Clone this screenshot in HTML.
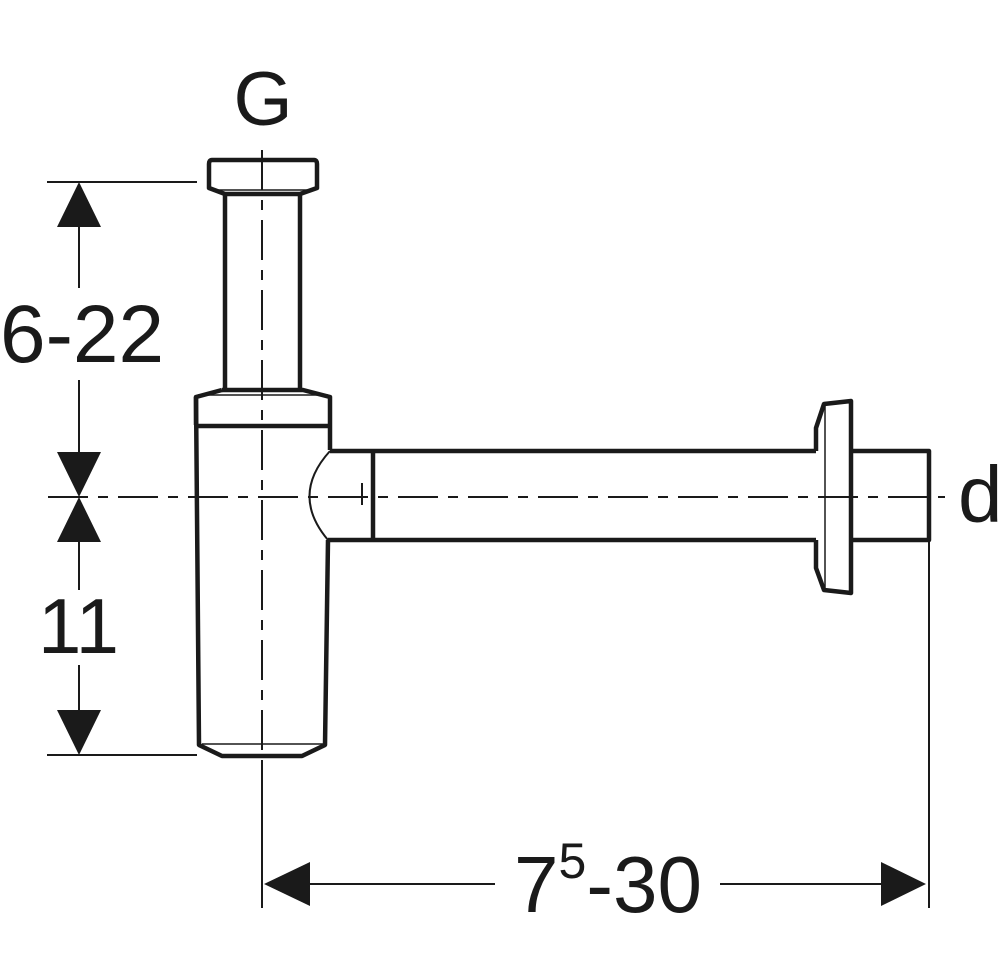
<!DOCTYPE html>
<html><head><meta charset="utf-8"><style>
html,body{margin:0;padding:0;background:#fff;}
svg{display:block;}
text{font-family:"Liberation Sans",Arial,sans-serif;fill:#1a1a1a;}
</style></head><body>
<svg width="1004" height="977" viewBox="0 0 1004 977" xmlns="http://www.w3.org/2000/svg">
<rect width="1004" height="977" fill="#fff"/>
<g stroke="#1a1a1a" fill="none" stroke-linejoin="round">
<line x1="262" y1="150" x2="262" y2="760" stroke-width="2" stroke-dasharray="40,10,10,10"/>
<line x1="262" y1="760" x2="262" y2="908" stroke-width="2"/>
<line x1="48" y1="497" x2="945" y2="497" stroke-width="2" stroke-dasharray="40,10,10,10"/>
<path d="M212,160 L314,160 Q317,160 317,164 L317,188 L300,194 L225,194 L209,188 L209,164 Q209,160 212,160 Z" stroke-width="4.5"/>
<line x1="212" y1="190" x2="314" y2="190" stroke-width="1.5"/>
<line x1="225" y1="194" x2="225" y2="390" stroke-width="4.5"/>
<line x1="300" y1="194" x2="300" y2="390" stroke-width="4.5"/>
<path d="M222,390 L303,390 L330,397 L330,450" stroke-width="4.5"/>
<path d="M222,390 L196,397 L196,425" stroke-width="4.5"/>
<line x1="198" y1="395" x2="328" y2="395" stroke-width="1.5"/>
<line x1="196" y1="426" x2="330" y2="426" stroke-width="4.5"/>
<path d="M196,397 L199,745 L222,756 L302,756 L325,745 L328,540" stroke-width="4.5"/>
<line x1="202" y1="744" x2="323" y2="744" stroke-width="1.5"/>
<line x1="330" y1="451" x2="816" y2="451" stroke-width="4.5"/>
<line x1="328" y1="540" x2="816" y2="540" stroke-width="4.5"/>
<path d="M330,451 Q290,495 328,540" stroke-width="2"/>
<line x1="373" y1="451" x2="373" y2="540" stroke-width="4.5"/>
<line x1="362" y1="483" x2="362" y2="505" stroke-width="2"/>
<path d="M816,540 L816,568 L824,590 L851,593 L851,401 L824,404 L816,428 L816,451" stroke-width="4.5"/>
<line x1="825" y1="406" x2="825" y2="588" stroke-width="1.5"/>
<path d="M851,451 L929,451 L929,540 L851,540" stroke-width="4.5"/>
<line x1="929" y1="540" x2="929" y2="908" stroke-width="2"/>
<line x1="47" y1="182" x2="197" y2="182" stroke-width="2"/>
<line x1="47" y1="755" x2="197" y2="755" stroke-width="2"/>
<line x1="79" y1="222" x2="79" y2="288" stroke-width="2"/>
<line x1="79" y1="380" x2="79" y2="455" stroke-width="2"/>
<line x1="79" y1="540" x2="79" y2="590" stroke-width="2"/>
<line x1="79" y1="665" x2="79" y2="715" stroke-width="2"/>
<line x1="300" y1="884" x2="495" y2="884" stroke-width="2"/>
<line x1="720" y1="884" x2="885" y2="884" stroke-width="2"/>
</g>
<g fill="#1a1a1a">
<polygon points="79,182 57,227 101,227"/>
<polygon points="79,497 57,452 101,452"/>
<polygon points="79,497 57,542 101,542"/>
<polygon points="79,755 57,710 101,710"/>
<polygon points="264,884 310,862 310,906"/>
<polygon points="926,884 881,862 881,906"/>
</g>
<text x="263" y="125" font-size="76" text-anchor="middle">G</text>
<text x="0" y="362" font-size="82">6-22</text>
<text x="38" y="653" font-size="78">11</text>
<text x="958" y="522" font-size="80">d</text>
<text x="514" y="912" font-size="80">7<tspan font-size="50" dy="-34">5</tspan><tspan dy="34">-30</tspan></text>
</svg>
</body></html>
